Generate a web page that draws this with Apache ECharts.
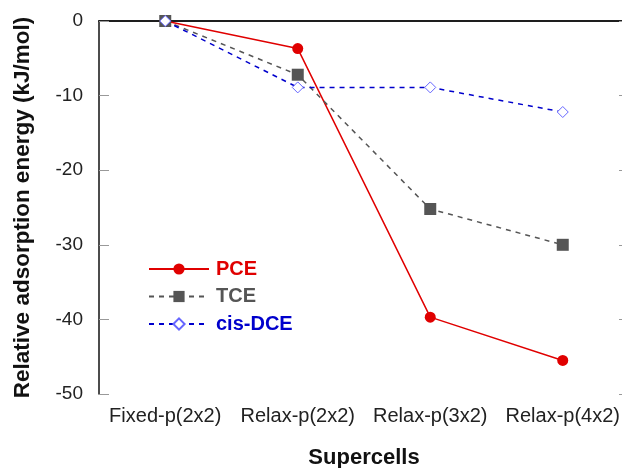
<!DOCTYPE html>
<html><head><meta charset="utf-8">
<script src="https://cdn.jsdelivr.net/npm/echarts@6/dist/echarts.min.js"></script>
<style>html,body{margin:0;padding:0;background:#fff}#c{width:622px;height:468px}</style>
</head><body><div id="c"></div>
<script>
const categories = ['Fixed-p(2x2)', 'Relax-p(2x2)', 'Relax-p(3x2)', 'Relax-p(4x2)'];
const pce = [0, -3.7, -39.7, -45.5];
const tce = [0, -7.2, -25.2, -30.0];
const cisDce = [0, -8.9, -8.9, -12.2];
const yTicks = [0, -10, -20, -30, -40, -50];

const chart = echarts.init(document.getElementById('c'), null, {renderer: 'canvas'});
const font = '"Liberation Sans", Arial, sans-serif';
chart.setOption({
  animation: false,
  grid: {left: 99, top: 21, right: -7, bottom: 74, containLabel: false, outerBoundsMode: 'none'},
  legend: {
    orient: 'vertical', left: 148, top: 259, padding: 0, itemWidth: 60, itemHeight: 14, itemGap: 7.5,
    textStyle: {fontFamily: font, fontSize: 20, lineHeight: 20, fontWeight: 'bold', padding: [0, 0, 0, 2]},
    data: [
      {name: 'PCE', textStyle: {color: '#e00000'}},
      {name: 'TCE', textStyle: {color: '#555555'}},
      {name: 'cis-DCE', textStyle: {color: '#0000cc'}}
    ]
  },
  xAxis: [{
    type: 'category', data: categories, boundaryGap: true, position: 'bottom',
    axisLine: {lineStyle: {color: '#111', width: 1.5}},
    axisTick: {inside: true, alignWithLabel: true, length: 10, lineStyle: {color: '#555'}},
    axisLabel: {fontFamily: font, fontSize: 20, color: '#222', margin: 12, interval: 0, hideOverlap: false},
    name: 'Supercells', nameLocation: 'middle', nameGap: 53,
    nameTextStyle: {fontFamily: font, fontSize: 22, fontWeight: 'bold', color: '#111'}
  }, {
    type: 'category', data: categories, boundaryGap: true, position: 'top',
    axisLine: {lineStyle: {color: '#111', width: 1.5}},
    axisTick: {inside: true, alignWithLabel: true, length: 10, lineStyle: {color: '#555'}},
    axisLabel: {show: false}
  }],
  yAxis: [{
    type: 'value', min: -50, max: 0, interval: 10,
    axisLine: {show: true, lineStyle: {color: '#111', width: 1.5}},
    axisTick: {show: true, inside: true, length: 10, lineStyle: {color: '#999'}},
    splitLine: {show: false},
    axisLabel: {fontFamily: font, fontSize: 19, color: '#222', margin: 16,
      formatter: v => yTicks.includes(v) ? String(v) : ''},
    name: 'Relative adsorption energy (kJ/mol)', nameLocation: 'middle', nameGap: 65,
    nameTextStyle: {fontFamily: font, fontSize: 22.5, fontWeight: 'bold', color: '#111'}
  }, {
    type: 'value', min: -50, max: 0, interval: 10, position: 'right',
    axisLine: {show: true, lineStyle: {color: '#111', width: 1.5}},
    axisTick: {show: true, inside: true, length: 10, lineStyle: {color: '#999'}},
    splitLine: {show: false}, axisLabel: {show: false}
  }],
  series: [{
    name: 'PCE', type: 'line', data: pce, symbol: 'circle', symbolSize: 11,
    itemStyle: {color: '#e00000'}, lineStyle: {color: '#e00000', width: 1.5}
  }, {
    name: 'TCE', type: 'line', data: tce, symbol: 'rect', symbolSize: 12,
    itemStyle: {color: '#555555'}, lineStyle: {color: '#555555', width: 1.5, type: [5, 5]}
  }, {
    name: 'cis-DCE', type: 'line', data: cisDce, symbol: 'diamond', symbolSize: 11,
    itemStyle: {color: '#ffffff', borderColor: '#6666ff', borderWidth: 1},
    lineStyle: {color: '#0000cc', width: 1.5, type: [5, 5]}
  }]
});
</script></body></html>
